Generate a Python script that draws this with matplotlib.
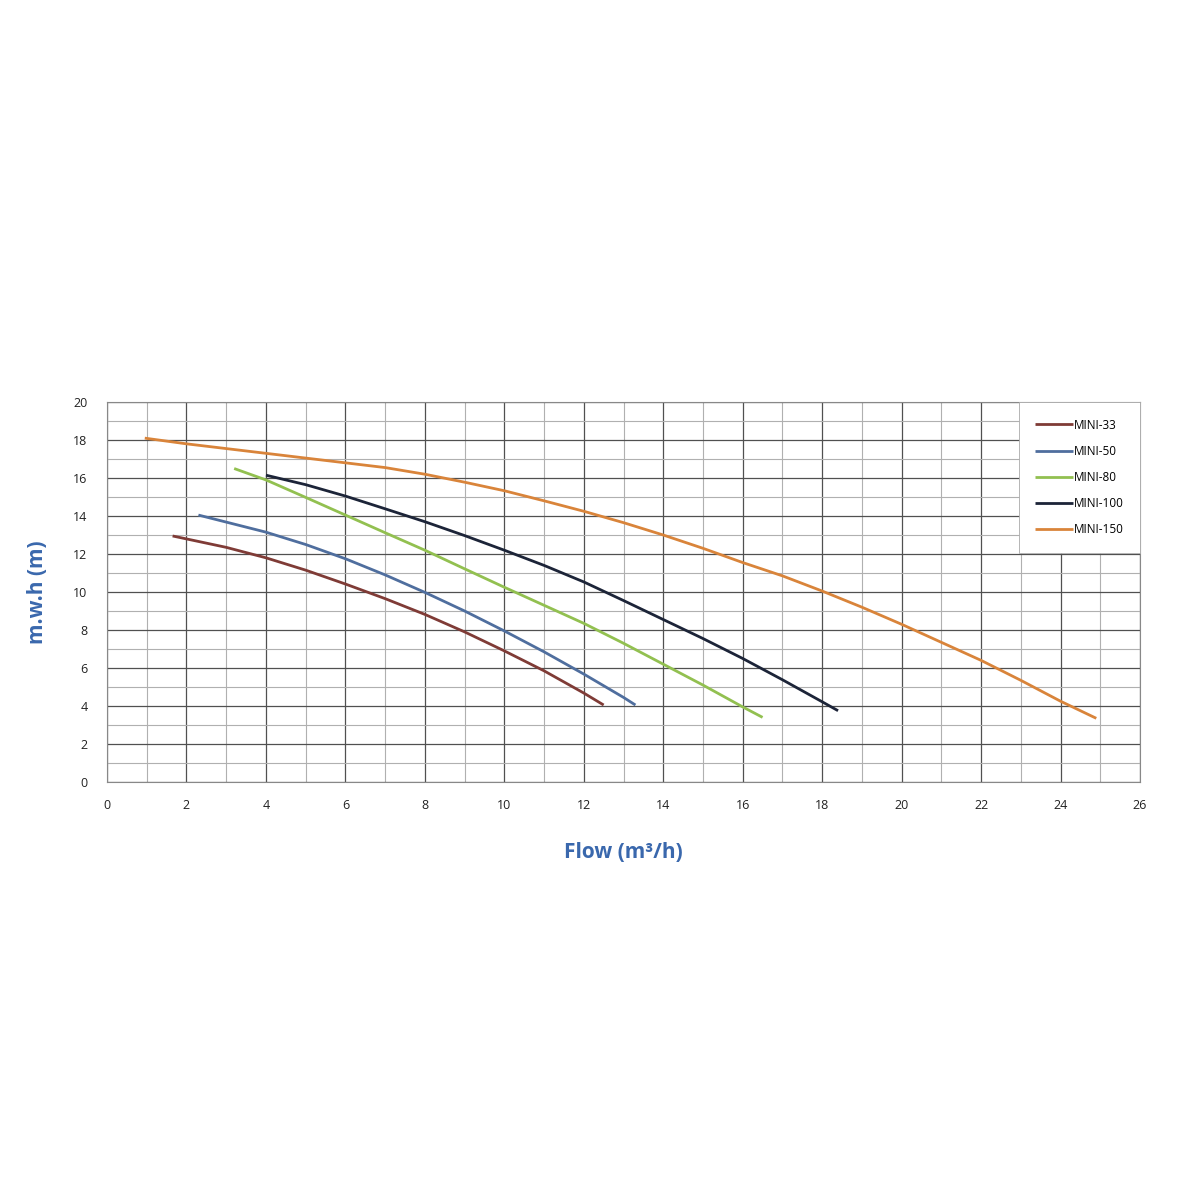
import matplotlib
matplotlib.use('Agg')
import matplotlib.pyplot as plt
from matplotlib.ticker import MultipleLocator

# pump curves: flow (m3/h) -> head (m)
mini33_q = [1.65, 3, 4, 5, 6, 7, 8, 9, 10, 11, 12, 12.5]
mini33_h = [12.95, 12.35, 11.8, 11.15, 10.42, 9.65, 8.82, 7.9, 6.9, 5.85, 4.68, 4.05]

mini50_q = [2.3, 3, 4, 5, 6, 7, 8, 9, 10, 11, 12, 13, 13.3]
mini50_h = [14.05, 13.68, 13.15, 12.5, 11.75, 10.9, 9.98, 9.0, 7.95, 6.85, 5.68, 4.45, 4.05]

mini80_q = [3.2, 4, 5, 6, 7, 8, 9, 10, 11, 12, 13, 14, 15, 16, 16.5]
mini80_h = [16.5, 15.9, 14.98, 14.05, 13.12, 12.2, 11.22, 10.25, 9.3, 8.35, 7.3, 6.2, 5.1, 3.95, 3.4]

mini100_q = [4.0, 5, 6, 7, 8, 9, 10, 11, 12, 13, 14, 15, 16, 17, 18, 18.4]
mini100_h = [16.15, 15.65, 15.05, 14.38, 13.7, 12.97, 12.2, 11.4, 10.53, 9.55, 8.55, 7.55, 6.5, 5.38, 4.22, 3.75]

mini150_q = [0.95, 2, 3, 4, 5, 6, 7, 8, 9, 10, 11, 12, 13, 14, 15, 16, 17, 18, 19, 20, 21, 22, 23, 24, 24.9]
mini150_h = [18.1, 17.8, 17.55, 17.3, 17.05, 16.8, 16.55, 16.2, 15.78, 15.33, 14.8, 14.25, 13.65,
             13.0, 12.3, 11.55, 10.85, 10.05, 9.2, 8.3, 7.35, 6.4, 5.35, 4.25, 3.35]

labels = ['MINI-33', 'MINI-50', 'MINI-80', 'MINI-100', 'MINI-150']
colors = ['#7f3b36', '#4f6e9e', '#92c050', '#1c2438', '#d9843a']

plt.rcParams['font.family'] = ['Open Sans', 'DejaVu Sans']

fig = plt.figure(figsize=(12, 12.03), dpi=100)
ax = fig.add_axes([0.0892, 0.35, 0.8608, 0.3158])

series = [(mini33_q, mini33_h), (mini50_q, mini50_h), (mini80_q, mini80_h),
          (mini100_q, mini100_h), (mini150_q, mini150_h)]
for (q, h), lab, col in zip(series, labels, colors):
    ax.plot(q, h, color=col, lw=2, label=lab, solid_capstyle='butt', solid_joinstyle='round')

ax.set_xlim(0, 26)
ax.set_ylim(0, 20)
ax.xaxis.set_major_locator(MultipleLocator(2))
ax.yaxis.set_major_locator(MultipleLocator(2))
ax.xaxis.set_minor_locator(MultipleLocator(1))
ax.yaxis.set_minor_locator(MultipleLocator(1))
ax.grid(which='major', color='#505050', lw=0.9)
ax.grid(which='minor', color='#b0b0b0', lw=0.8)
ax.set_axisbelow(True)
ax.tick_params(which='both', length=0, labelsize=9, colors='#222222', pad=12)
ax.tick_params(axis='y', pad=14)
for s in ax.spines.values():
    s.set_color('#888888')
    s.set_linewidth(0.8)

ax.set_xlabel('Flow (m³/h)', fontsize=15, fontweight='bold', color='#3a68ad', labelpad=22)
ax.set_ylabel('m.w.h (m)', fontsize=15, fontweight='bold', color='#3a68ad', labelpad=18)

leg = ax.legend(loc='upper right', fontsize=8.5, frameon=True, fancybox=False,
                handlelength=3.2, handletextpad=0.05, labelspacing=1.12,
                borderpad=1.4, borderaxespad=0)
leg.get_frame().set_edgecolor('#aaaaaa')
leg.get_frame().set_linewidth(0.6)
leg.get_frame().set_alpha(1)

fig.savefig('out.png', dpi=100)
